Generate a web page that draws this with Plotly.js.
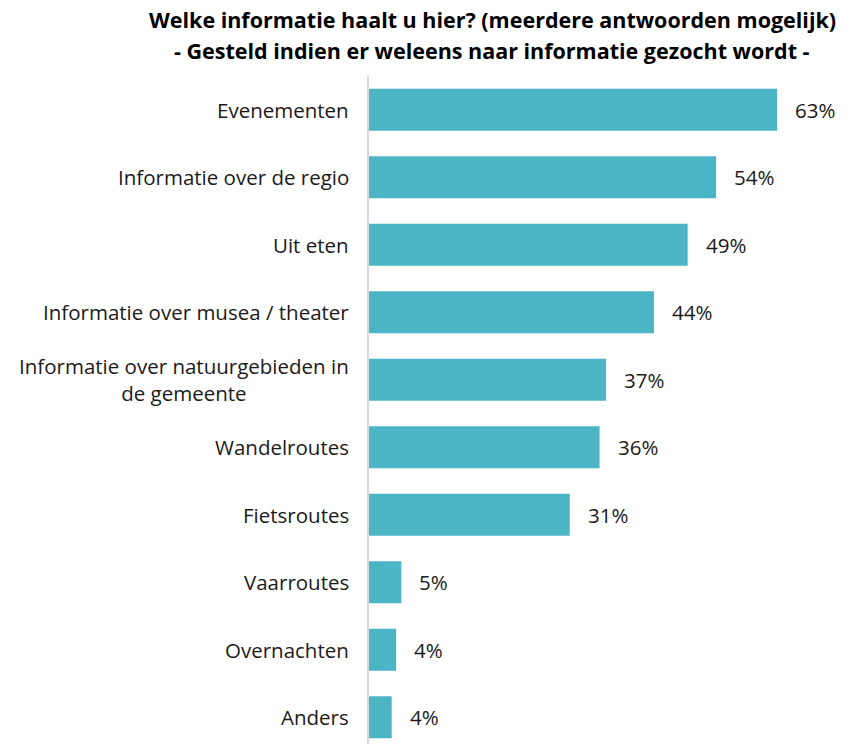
<!DOCTYPE html>
<html><head><meta charset="utf-8">
<script src="https://cdn.plot.ly/plotly-3.0.1.min.js"></script>
<style>html,body{margin:0;padding:0;background:#fff}#chart{width:859px;height:744px}</style>
</head><body><div id="chart"></div>
<script>
const categories = ["Evenementen","Informatie over de regio","Uit eten","Informatie over musea / theater","Informatie over natuurgebieden in<br>de gemeente","Wandelroutes","Fietsroutes","Vaarroutes","Overnachten","Anders"];
const values = [63, 53.6, 49.2, 44, 36.6, 35.6, 31, 5, 4.2, 3.5];
const valueLabels = ["63%","54%","49%","44%","37%","36%","31%","5%","4%","4%"];
const titleLines = ["Welke informatie haalt u hier? (meerdere antwoorden mogelijk)","- Gesteld indien er weleens naar informatie gezocht wordt -"];

const FONT = "Open Sans, sans-serif";
const annotations = [];
categories.forEach((c,i)=>{
  annotations.push({xref:'paper', x:0, xshift:-18, xanchor:'right', yref:'y', y:c, text:c, showarrow:false, align:'center', font:{family:FONT,size:20.5,color:'#1a1a1a'}});
  annotations.push({xref:'x', x:values[i], xshift:16, xanchor:'left', yref:'y', y:c, text:valueLabels[i], showarrow:false, font:{family:FONT,size:20.5,color:'#1a1a1a'}});
});
const titleY = [(744-19)/668, (744-51)/668];
titleLines.forEach((t,i)=>{
  annotations.push({xref:'paper', x:(492-369)/490, xanchor:'center', yref:'paper', y:titleY[i], yanchor:'middle', text:'<b>'+t+'</b>', showarrow:false, font:{family:FONT,size:21.5,color:'#000'}});
});

const trace = {type:'bar', orientation:'h', y:categories, x:values, marker:{color:'#4BB5C6'}, hoverinfo:'skip'};
const layout = {
  width:859, height:744,
  margin:{l:369, r:0, t:76, b:0},
  paper_bgcolor:'#fff', plot_bgcolor:'#fff',
  bargap:0.38,
  showlegend:false,
  xaxis:{range:[0,75.66], showgrid:false, zeroline:false, showticklabels:false, showline:false, fixedrange:true},
  yaxis:{type:'category', range:[9.396,-0.5], showgrid:false, zeroline:false, showticklabels:false, showline:true, linecolor:'#D9D9D9', linewidth:2, ticks:''},
  annotations:annotations
};
Plotly.newPlot('chart',[trace],layout,{displayModeBar:false,staticPlot:true});
</script></body></html>
